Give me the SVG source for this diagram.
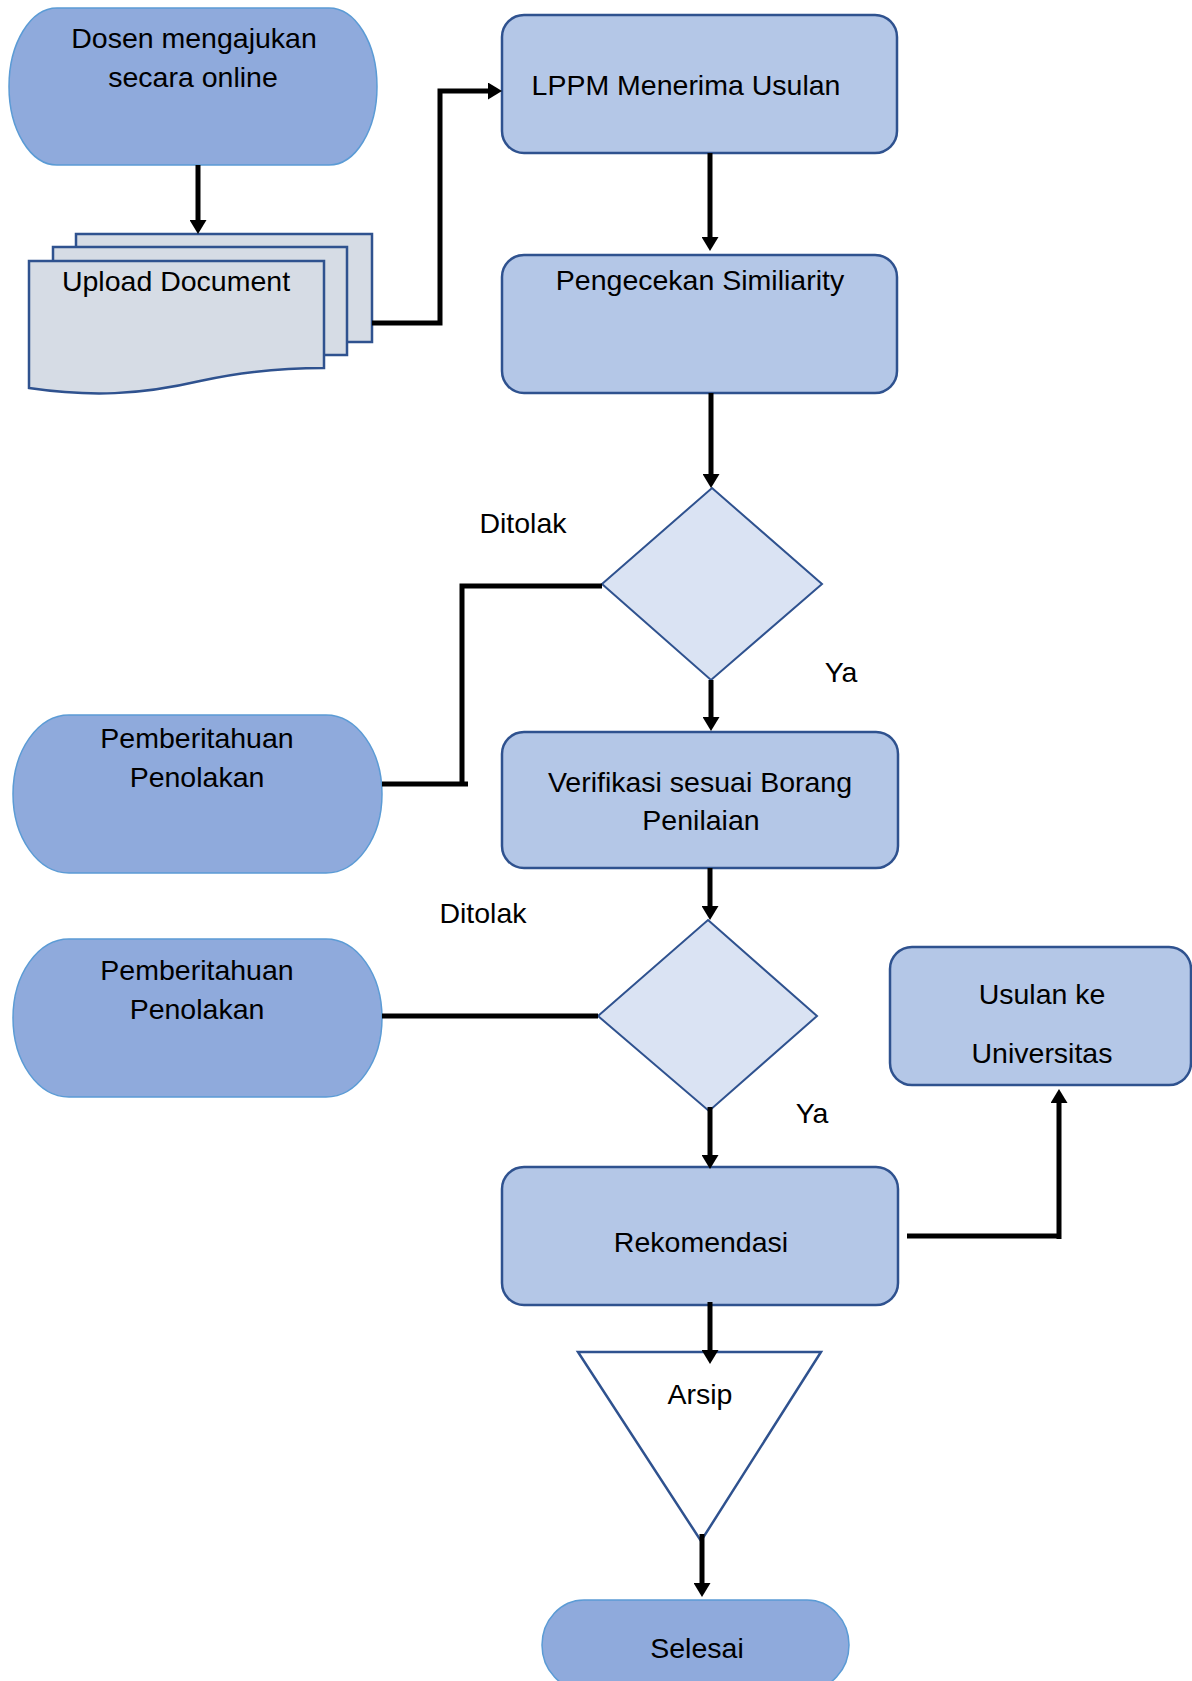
<svg xmlns="http://www.w3.org/2000/svg" width="1192" height="1681" viewBox="0 0 1192 1681">
  <style>
    .t { font-family: "Liberation Sans", Arial, sans-serif; font-size: 28.5px; fill: #000; text-anchor: middle; }
    .term { fill: #8FAADC; stroke: #5B9BD5; stroke-width: 1.5; }
    .proc { fill: #B4C7E7; stroke: #2F528F; stroke-width: 2.5; }
    .dec { fill: #DAE3F3; stroke: #2F528F; stroke-width: 2; }
    .doc { fill: #D6DCE5; stroke: #2F528F; stroke-width: 2.5; }
    .arc { fill: #FFFFFF; stroke: #2F528F; stroke-width: 2.5; }
    .c { fill: none; stroke: #000; stroke-width: 5; }
    .ca { fill: none; stroke: #000; stroke-width: 5; marker-end: url(#ah); }
  </style>
  <defs>
    <marker id="ah" viewBox="0 0 14 17" refX="1" refY="8.5" markerWidth="14" markerHeight="17" markerUnits="userSpaceOnUse" orient="auto">
      <path d="M0,0 L14,8.5 L0,17 Z" fill="#000"/>
    </marker>
  </defs>
  <rect width="1192" height="1681" fill="#FFFFFF"/>

  <g id="dosen">
    <path class="term" d="M57,8 H329 A48,78.5 0 0 1 329,165 H57 A48,78.5 0 0 1 57,8 Z"/>
    <text class="t" x="194" y="48">Dosen mengajukan</text>
    <text class="t" x="193" y="87">secara online</text>
  </g>

  <g id="upload">
    <rect class="doc" x="76" y="234" width="296" height="108"/>
    <rect class="doc" x="53" y="247" width="294" height="108"/>
    <path class="doc" d="M29,261 H324 V368 C280,368 240,372 200,381 C140,395 90,397 29,388 Z"/>
    <text class="t" x="176" y="291">Upload Document</text>
  </g>

  <g id="lppm">
    <rect class="proc" x="502" y="15" width="395" height="138" rx="22" ry="22"/>
    <text class="t" x="686" y="95">LPPM Menerima Usulan</text>
  </g>

  <g id="pengecekan">
    <rect class="proc" x="502" y="255" width="395" height="138" rx="22" ry="22"/>
    <text class="t" x="700" y="290">Pengecekan Similiarity</text>
  </g>

  <g id="keputusan1">
    <polygon class="dec" points="712,488 822,584 711,680 602,584"/>
    <text class="t" x="523" y="533">Ditolak</text>
    <text class="t" x="841" y="682">Ya</text>
  </g>

  <g id="penolakan1">
    <path class="term" d="M69,715 H326 A56,79 0 0 1 326,873 H69 A56,79 0 0 1 69,715 Z"/>
    <text class="t" x="197" y="748">Pemberitahuan</text>
    <text class="t" x="197" y="787">Penolakan</text>
  </g>

  <g id="verifikasi">
    <rect class="proc" x="502" y="732" width="396" height="136" rx="22" ry="22"/>
    <text class="t" x="700" y="792">Verifikasi sesuai Borang</text>
    <text class="t" x="701" y="830">Penilaian</text>
  </g>

  <g id="keputusan2">
    <polygon class="dec" points="708,920 817,1016 709,1111 598,1016"/>
    <text class="t" x="483" y="923">Ditolak</text>
    <text class="t" x="812" y="1123">Ya</text>
  </g>

  <g id="penolakan2">
    <path class="term" d="M69,939 H326 A56,79 0 0 1 326,1097 H69 A56,79 0 0 1 69,939 Z"/>
    <text class="t" x="197" y="980">Pemberitahuan</text>
    <text class="t" x="197" y="1019">Penolakan</text>
  </g>

  <g id="usulan">
    <rect class="proc" x="890" y="947" width="301" height="138" rx="22" ry="22"/>
    <text class="t" x="1042" y="1004">Usulan ke</text>
    <text class="t" x="1042" y="1063">Universitas</text>
  </g>

  <g id="rekomendasi">
    <rect class="proc" x="502" y="1167" width="396" height="138" rx="22" ry="22"/>
    <text class="t" x="701" y="1252">Rekomendasi</text>
  </g>

  <g id="arsip">
    <polygon class="arc" points="578,1352 821,1352 701,1541"/>
    <text class="t" x="700" y="1404">Arsip</text>
  </g>

  <g id="selesai">
    <path class="term" d="M584,1600 H807 A42,45 0 0 1 807,1690 H584 A42,45 0 0 1 584,1600 Z"/>
    <text class="t" x="697" y="1658">Selesai</text>
  </g>

  <g id="connectors">
    <path class="ca" d="M198,165 V221"/>
    <path class="ca" stroke-width="4" d="M372,323 H440 V91 H489"/>
    <path class="ca" d="M710,153 V238"/>
    <path class="ca" d="M711,393 V475"/>
    <path class="c" stroke-width="5.5" d="M602,586 H462 V786"/>
    <path class="c" stroke-width="5.5" d="M382,784 H468"/>
    <path class="ca" d="M711,680 V718"/>
    <path class="ca" d="M710,868 V907"/>
    <path class="c" stroke-width="6" d="M382,1016 H598"/>
    <path class="ca" d="M710,1107 V1156"/>
    <path class="c" stroke-width="6" d="M907,1236 H1061"/>
    <path class="ca" d="M1059,1239 V1102"/>
    <path class="ca" stroke-width="6" d="M710,1302 V1351"/>
    <path class="ca" stroke-width="6" d="M702,1534 V1584"/>
  </g>
</svg>
